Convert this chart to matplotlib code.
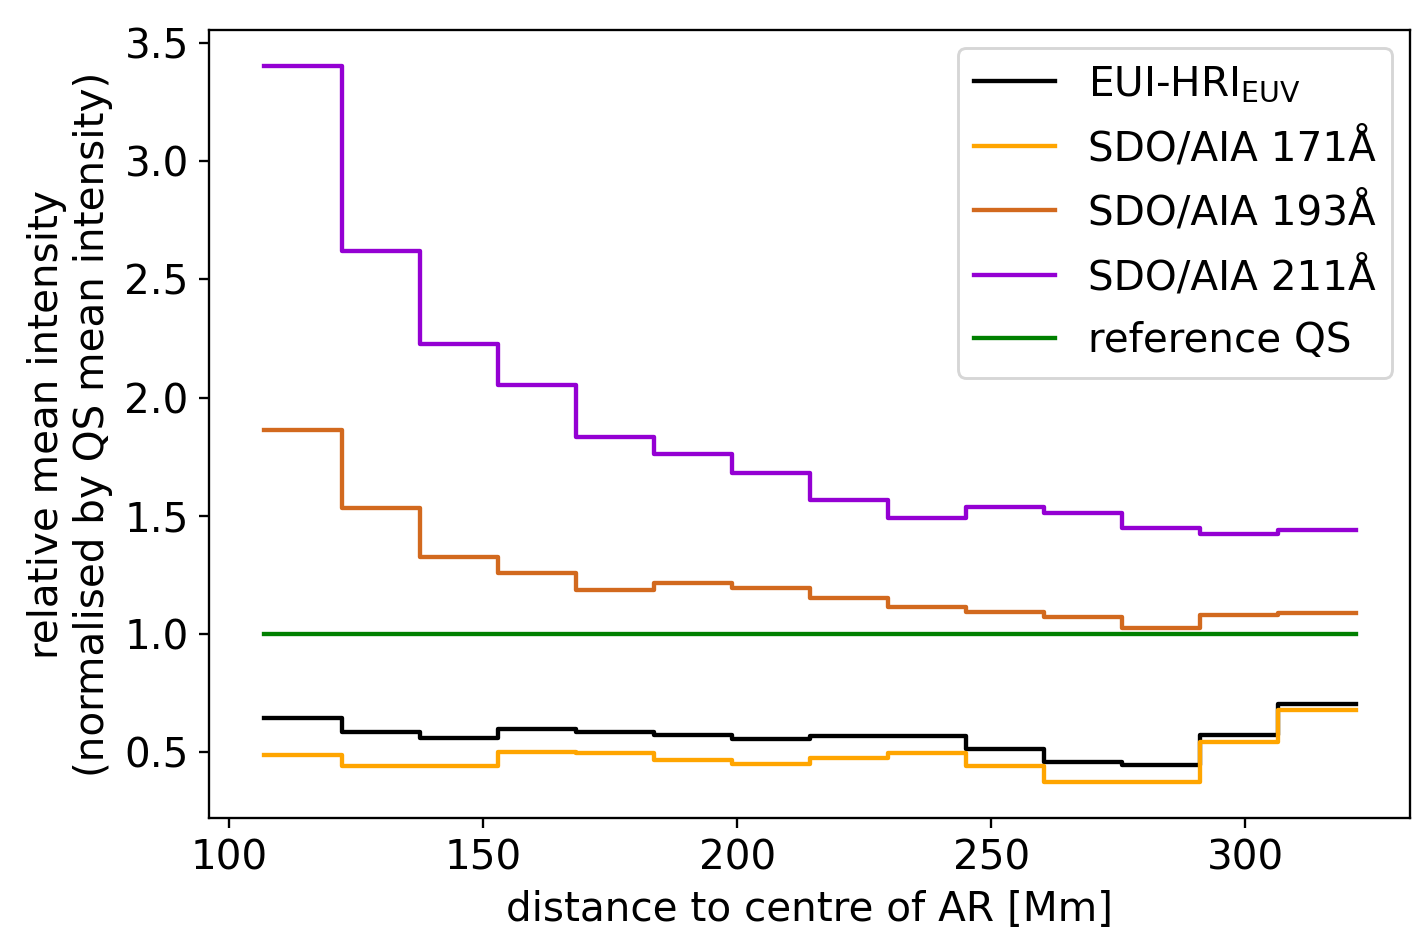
import matplotlib.pyplot as plt

# bin edges [Mm] and mean intensity per bin (relative to QS)
edges = [106.8, 122.15, 137.5, 152.85, 168.2, 183.55, 198.9, 214.25,
         229.6, 244.95, 260.3, 275.65, 291.0, 306.35, 321.7]

eui = [0.644, 0.588, 0.563, 0.600, 0.586, 0.576, 0.559, 0.569,
       0.569, 0.513, 0.459, 0.446, 0.573, 0.706]
aia171 = [0.488, 0.441, 0.445, 0.501, 0.496, 0.467, 0.453, 0.478,
          0.499, 0.442, 0.374, 0.374, 0.544, 0.679]
aia193 = [1.865, 1.533, 1.325, 1.257, 1.186, 1.217, 1.194, 1.154,
          1.117, 1.094, 1.074, 1.028, 1.080, 1.091]
aia211 = [3.403, 2.620, 2.225, 2.053, 1.835, 1.761, 1.680, 1.568,
          1.490, 1.536, 1.514, 1.451, 1.423, 1.441]
qs_ref = [1.0] * 14

plt.rcParams['font.size'] = 14

dpi = 208.6
fig, ax = plt.subplots(figsize=(1413 / dpi, 935 / dpi), dpi=dpi)
fig.subplots_adjust(left=0.148, right=0.998, top=0.968, bottom=0.125)

series = [
    (eui, 'black', r'EUI-HRI$_\mathrm{EUV}$'),
    (aia171, 'orange', 'SDO/AIA 171Å'),
    (aia193, 'chocolate', 'SDO/AIA 193Å'),
    (aia211, 'darkviolet', 'SDO/AIA 211Å'),
    (qs_ref, 'green', 'reference QS'),
]

for vals, col, lab in series:
    ax.step(edges, vals + [vals[-1]], where='post', color=col, label=lab)

ax.set_xlabel('distance to centre of AR [Mm]')
ax.set_ylabel('relative mean intensity\n(normalised by QS mean intensity)')
ax.set_yticks([0.5, 1.0, 1.5, 2.0, 2.5, 3.0, 3.5])
ax.legend(loc='upper right', labelspacing=0.57, borderaxespad=0.45)

plt.savefig('out.png', dpi=dpi)
